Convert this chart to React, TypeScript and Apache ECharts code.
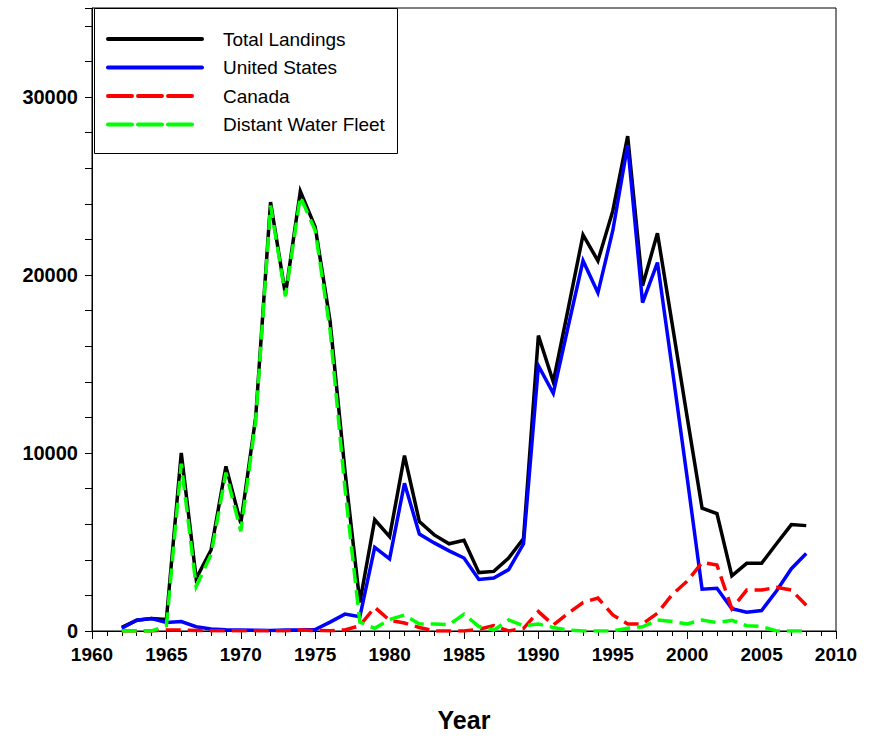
import React, { useEffect, useRef } from "react";
import * as echarts from "echarts";

const years: number[] = [
  1962, 1963, 1964, 1965, 1966, 1967, 1968, 1969, 1970, 1971,
  1972, 1973, 1974, 1975, 1976, 1977, 1978, 1979, 1980, 1981,
  1982, 1983, 1984, 1985, 1986, 1987, 1988, 1989, 1990, 1991,
  1992, 1993, 1994, 1995, 1996, 1997, 1998, 1999, 2000, 2001,
  2002, 2003, 2004, 2005, 2006, 2007, 2008,
];

const totalLandings: number[] = [
  200, 600, 700, 650, 10000, 2950, 4550, 9250, 6050, 12000,
  24100, 18900, 24700, 22700, 17400, 9000, 1600, 6250, 5300, 9850,
  6150, 5400, 4900, 5100, 3280, 3350, 4100, 5200, 16600, 14000,
  18100, 22250, 20800, 23600, 27800, 19400, 22350, 17200, 12000, 6900,
  6600, 3100, 3800, 3800, 4900, 5980, 5920,
];

const unitedStates: number[] = [
  150, 600, 700, 480, 530, 240, 110, 70, 60, 40,
  30, 60, 60, 80, 500, 950, 800, 4700, 4050, 8300,
  5450, 4950, 4500, 4100, 2900, 2980, 3450, 4900, 14900, 13350,
  17100, 20800, 19000, 22500, 27300, 18450, 20700, 14700, 8600, 2350,
  2400, 1250, 1050, 1150, 2250, 3500, 4350,
];

const canada: number[] = [
  0, 0, 0, 50, 50, 30, 20, 20, 20, 20,
  20, 20, 50, 30, 20, 60, 300, 1330, 600, 450,
  200, 0, 0, 0, 100, 300, 0, 150, 1090, 340,
  1000, 1600, 1850, 900, 400, 400, 1000, 2050, 2800, 3850,
  3700, 1250, 2300, 2300, 2450, 2300, 1450,
];

const distantWaterFleet: number[] = [
  0, 0, 0, 300, 9400, 2500, 4300, 8900, 5600, 11800,
  23900, 18800, 24400, 22500, 16900, 8000, 500, 150, 650, 900,
  400, 400, 350, 950, 250, 50, 620, 300, 390, 200,
  50, 0, 0, 0, 150, 240, 620, 530, 400, 620,
  470, 600, 300, 250, 0, 0, 0,
];

const seriesNames: string[] = ["Total Landings", "United States", "Canada", "Distant Water Fleet"];
const seriesColors: string[] = ["#000000", "#0000ff", "#ff0000", "#00ff00"];
const seriesDashed: boolean[] = [false, false, true, true];
const seriesValues: number[][] = [totalLandings, unitedStates, canada, distantWaterFleet];

const FONT = "'Liberation Sans', Arial, sans-serif";

export default function App() {
  const ref = useRef<HTMLDivElement>(null);

  useEffect(() => {
    if (!ref.current) return;
    const chart = echarts.init(ref.current, undefined, { renderer: "svg" });

    const series = seriesNames.map((name, i) => ({
      name,
      type: "line",
      symbol: "none",
      showSymbol: false,
      data: years.map((y, j) => [y, seriesValues[i][j]]),
      lineStyle: {
        color: seriesColors[i],
        width: 3.5,
        type: seriesDashed[i] ? [15, 7] : "solid",
        cap: "butt",
        join: "miter",
      },
      itemStyle: { color: seriesColors[i] },
      z: 2 + i,
    }));

    const legendTop = 39;
    const legendStep = 28.5;
    const legendElements: any[] = [
      {
        type: "rect",
        shape: { x: 94.5, y: 8.5, width: 303, height: 145 },
        style: { fill: "#fff", stroke: "#000", lineWidth: 1 },
        z: 100,
      },
    ];
    seriesNames.forEach((name, i) => {
      const y = legendTop + i * legendStep;
      legendElements.push({
        type: "line",
        shape: { x1: 108, y1: y, x2: seriesDashed[i] ? 192 : 202, y2: y },
        style: {
          stroke: seriesColors[i],
          lineWidth: 4,
          lineDash: seriesDashed[i] ? [24, 6] : null,
          lineCap: "round",
        },
        z: 101,
      });
      legendElements.push({
        type: "text",
        x: 223,
        y,
        style: {
          text: name,
          fontFamily: FONT,
          fontSize: 19,
          fill: "#000",
          textVerticalAlign: "middle",
          verticalAlign: "middle",
        },
        z: 101,
      });
    });

    chart.setOption({
      animation: false,
      backgroundColor: "#ffffff",
      grid: {
        left: 92,
        right: 38,
        top: 8,
        bottom: 107,
        show: true,
        borderColor: "#000",
        borderWidth: 1,
        backgroundColor: "transparent",
      },
      graphic: legendElements,
      xAxis: {
        type: "value",
        min: 1960,
        max: 2010,
        interval: 5,
        name: "Year",
        nameLocation: "middle",
        nameGap: 76,
        nameTextStyle: {
          fontFamily: FONT,
          fontSize: 25,
          fontWeight: "bold",
          color: "#000",
        },
        axisLine: { show: true, lineStyle: { color: "#000", width: 1 } },
        axisTick: { show: true, length: 8, lineStyle: { color: "#000" } },
        minorTick: { show: true, splitNumber: 5, length: 5, lineStyle: { color: "#000" } },
        splitLine: { show: false },
        minorSplitLine: { show: false },
        axisLabel: {
          fontFamily: FONT,
          fontSize: 19,
          fontWeight: "bold",
          color: "#000",
          margin: 14,
          formatter: (v: number) => String(v),
        },
      },
      yAxis: {
        type: "value",
        min: 0,
        max: 35000,
        interval: 2000,
        axisLine: { show: true, lineStyle: { color: "#000", width: 1 } },
        axisTick: { show: true, length: 7, lineStyle: { color: "#000" } },
        splitLine: { show: false },
        axisLabel: {
          fontFamily: FONT,
          fontSize: 20,
          fontWeight: "bold",
          color: "#000",
          margin: 14,
          formatter: (v: number) => (v % 10000 === 0 && v < 35000 ? String(v) : ""),
        },
      },
      series,
    });

    return () => chart.dispose();
  }, []);

  return <div ref={ref} style={{ width: 874, height: 738, position: "absolute", left: 0, top: 0 }} />;
}
